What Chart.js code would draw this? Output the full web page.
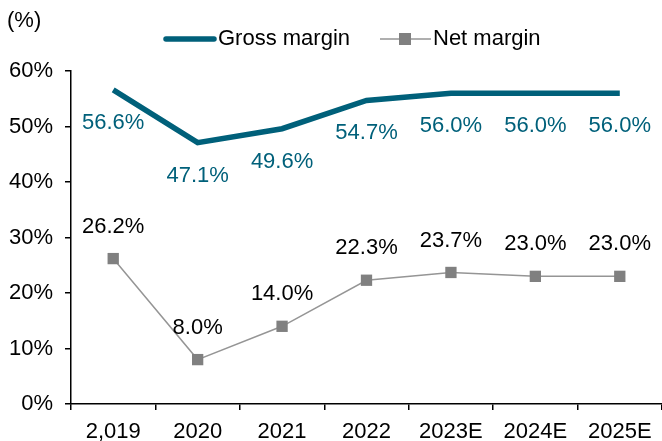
<!DOCTYPE html>
<html>
<head>
<meta charset="utf-8">
<script src="https://cdn.jsdelivr.net/npm/chart.js@4.4.0/dist/chart.umd.min.js"></script>
<style>
  html, body { margin: 0; padding: 0; background: #fff; }
  #wrap { width: 662px; height: 441px; position: relative; }
</style>
</head>
<body>
<div id="wrap"><canvas id="chart" width="662" height="441"></canvas></div>
<script>
// Data
const years = ["2,019", "2020", "2021", "2022", "2023E", "2024E", "2025E"];
const grossMargin = [56.6, 47.1, 49.6, 54.7, 56.0, 56.0, 56.0];
const netMargin = [26.2, 8.0, 14.0, 22.3, 23.7, 23.0, 23.0];
const yTicks = [0, 10, 20, 30, 40, 50, 60];

const TEAL = "#00607a";
const GREY_LINE = "#959595";
const GREY_MARK = "#808080";
const FONT = "'Liberation Sans', Arial, sans-serif";
const FS = 22;

// value labels: gross below the line, net above the markers
const valueLabels = {
  id: "valueLabels",
  afterDatasetsDraw(chart) {
    const ctx = chart.ctx;
    ctx.save();
    ctx.font = FS + "px " + FONT;
    ctx.textAlign = "center";
    ctx.textBaseline = "middle";
    chart.data.datasets.forEach((ds, i) => {
      const meta = chart.getDatasetMeta(i);
      meta.data.forEach((pt, j) => {
        const txt = ds.data[j].toFixed(1) + "%";
        if (i === 0) {
          ctx.fillStyle = TEAL;
          ctx.fillText(txt, pt.x, pt.y + 33);
        } else {
          ctx.fillStyle = "#000";
          ctx.fillText(txt, pt.x, pt.y - 32);
        }
      });
    });
    ctx.restore();
  }
};

// unit label and legend at the top
const topText = {
  id: "topText",
  afterDraw(chart) {
    const ctx = chart.ctx;
    ctx.save();
    ctx.font = FS + "px " + FONT;
    ctx.textBaseline = "middle";
    ctx.fillStyle = "#000";
    ctx.textAlign = "left";
    ctx.fillText("(%)", 7, 21);

    // gross margin entry
    ctx.strokeStyle = TEAL;
    ctx.lineWidth = 5.5;
    ctx.lineCap = "round";
    ctx.beginPath();
    ctx.moveTo(166, 39);
    ctx.lineTo(214, 39);
    ctx.stroke();
    ctx.fillText("Gross margin", 218, 39);

    // net margin entry
    ctx.strokeStyle = GREY_LINE;
    ctx.lineWidth = 1.5;
    ctx.lineCap = "butt";
    ctx.beginPath();
    ctx.moveTo(380, 39);
    ctx.lineTo(431, 39);
    ctx.stroke();
    ctx.fillStyle = GREY_MARK;
    ctx.fillRect(399, 33, 12, 12);
    ctx.fillStyle = "#000";
    ctx.fillText("Net margin", 433, 39);
    ctx.restore();
  }
};

new Chart(document.getElementById("chart"), {
  type: "line",
  data: {
    labels: years,
    datasets: [
      {
        label: "Gross margin",
        data: grossMargin,
        borderColor: TEAL,
        borderWidth: 5.5,
        pointRadius: 0,
        tension: 0
      },
      {
        label: "Net margin",
        data: netMargin,
        borderColor: GREY_LINE,
        borderWidth: 1.5,
        pointStyle: "rect",
        pointRadius: 8,
        pointBackgroundColor: GREY_MARK,
        pointBorderColor: GREY_MARK,
        pointBorderWidth: 0,
        tension: 0
      }
    ]
  },
  options: {
    responsive: false,
    animation: false,
    layout: { autoPadding: false, padding: { top: 71, right: 0, left: 0, bottom: 0 } },
    plugins: {
      legend: { display: false },
      tooltip: { enabled: false }
    },
    scales: {
      x: {
        offset: true,
        afterFit(axis) { axis.height = 37; },
        grid: { drawOnChartArea: false, drawTicks: true, tickLength: 6, color: "#000", lineWidth: 1.5, offset: true },
        border: { color: "#000", width: 1.5 },
        ticks: { color: "#000", font: { family: FONT, size: FS }, padding: 9, maxRotation: 0, autoSkip: false }
      },
      y: {
        min: 0,
        max: 60,
        afterBuildTicks(axis) { axis.ticks = yTicks.map(v => ({ value: v })); },
        afterFit(axis) { axis.width = 71; },
        grid: { drawOnChartArea: false, drawTicks: true, tickLength: 6, color: "#000", lineWidth: 1.5 },
        border: { color: "#000", width: 1.5 },
        ticks: { color: "#000", font: { family: FONT, size: FS }, padding: 12, callback: v => v + "%" }
      }
    }
  },
  plugins: [valueLabels, topText]
});
</script>
</body>
</html>
